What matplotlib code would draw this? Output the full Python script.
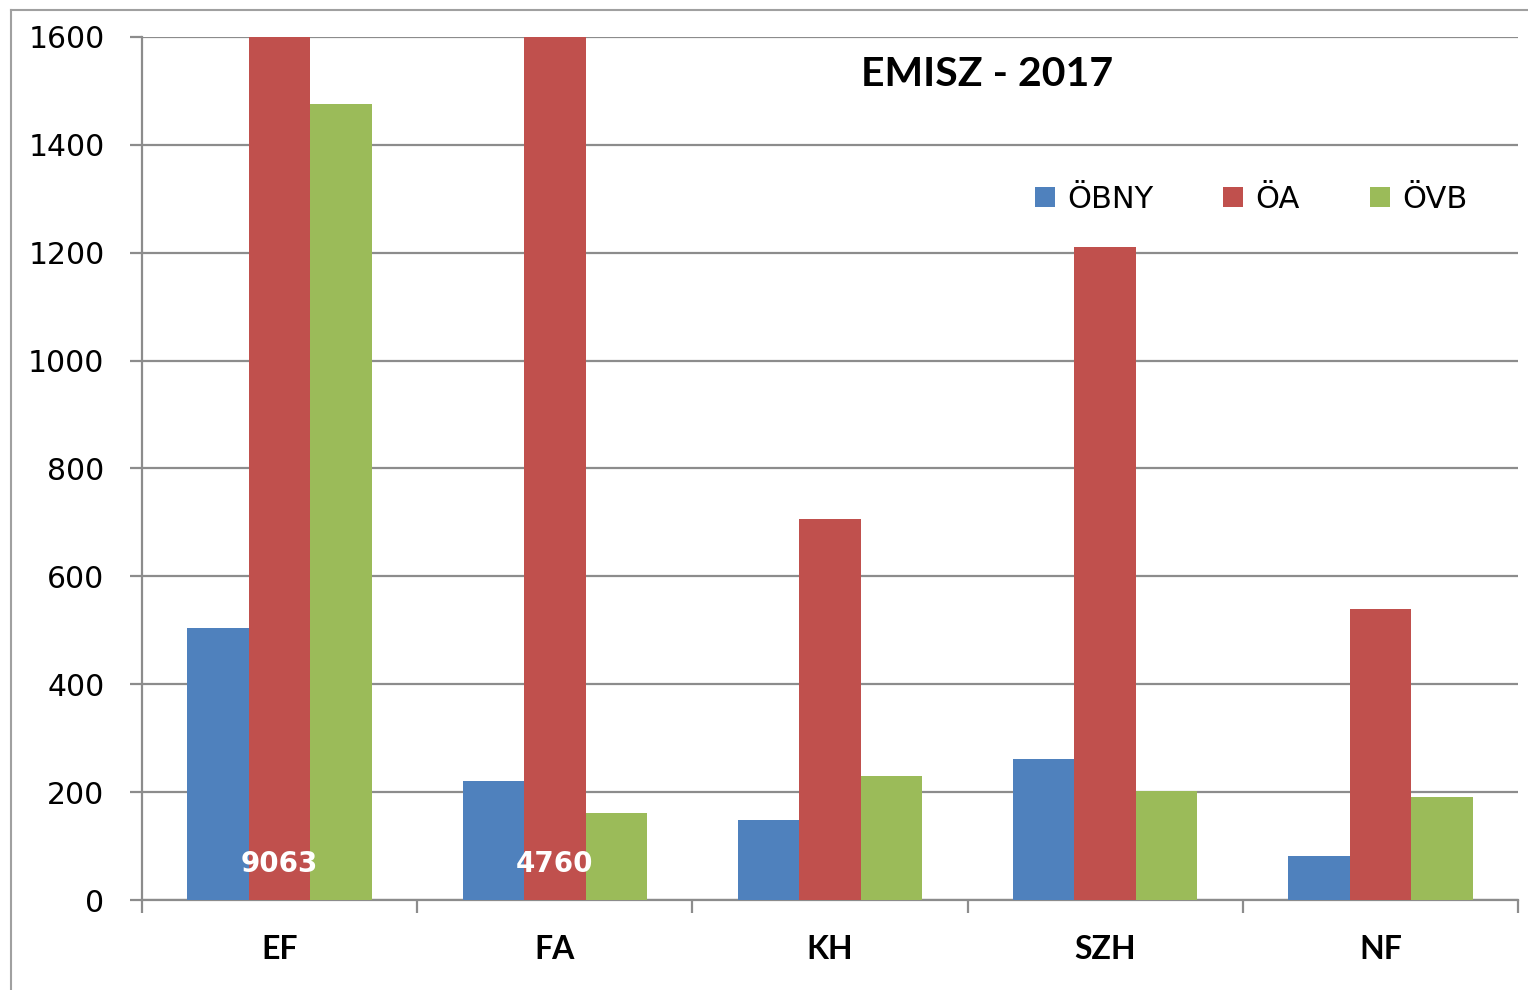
import matplotlib
matplotlib.use("Agg")
import matplotlib.pyplot as plt
import numpy as np
from matplotlib.lines import Line2D

categories = ["EF", "FA", "KH", "SZH", "NF"]
series_names = ["ÖBNY", "ÖA", "ÖVB"]
obny = [504, 221, 148, 261, 82]
oa = [9063, 4760, 706, 1211, 539]
ovb = [1476, 161, 230, 202, 191]
colors = ["#4F81BD", "#C0504D", "#9BBB59"]
yticks = [0, 200, 400, 600, 800, 1000, 1200, 1400, 1600]
title = "EMISZ - 2017"

fig = plt.figure(figsize=(15.28, 9.9), dpi=100)
ax = fig.add_axes([142/1528, 90/990, (1518-142)/1528, (900-37)/990])

x = np.arange(len(categories)) + 0.5
w = 0.2235
grid_c = "#8C8C8C"
for i, (vals, name) in enumerate(zip([obny, oa, ovb], series_names)):
    ax.bar(x + (i - 1) * w, vals, width=w, color=colors[i], label=name, zorder=3)

ax.set_xlim(0, len(categories))
ax.set_ylim(0, 1600)
ax.set_yticks(yticks)
ax.set_yticklabels([str(v) for v in yticks], fontsize=21.5, family="DejaVu Sans")
ax.yaxis.grid(True, color=grid_c, linewidth=1.6, zorder=0)
ax.set_axisbelow(True)

ax.set_xticks(np.arange(len(categories) + 1))
ax.set_xticklabels([])
ax.set_xticks(x, minor=True)
ax.set_xticklabels(categories, minor=True, fontsize=23, fontweight="bold", family="Lato")
ax.tick_params(axis="x", which="minor", length=0, pad=25)
ax.tick_params(axis="x", which="major", length=9, width=1.6, color=grid_c)
ax.tick_params(axis="y", length=9, width=1.6, color=grid_c, pad=18)

for s in ["top", "right"]:
    ax.spines[s].set_visible(False)
for s in ["left", "bottom"]:
    ax.spines[s].set_color(grid_c)
    ax.spines[s].set_linewidth(1.6)

# overflow labels for clipped bars
for xi, v in zip(x, oa):
    if v > 1600:
        ax.text(xi, 67, str(v), color="white", fontsize=20, fontweight="bold",
                ha="center", va="center", family="DejaVu Sans", zorder=5)

ax.text(0.614, 0.957, title, transform=ax.transAxes, fontsize=29.5, fontweight="bold",
        family="Lato", ha="center", va="center")

leg = ax.legend(loc="center", bbox_to_anchor=(0.806, 0.812), ncol=3, frameon=False,
                prop={"family": "DejaVu Sans", "size": 22}, handlelength=0.65, handleheight=0.65,
                handletextpad=0.4, columnspacing=2.3)

# outer frame lines (screenshot border)
fig.add_artist(Line2D([11/1528, 1], [1 - 10/990, 1 - 10/990], color="#A0A0A0", lw=1.5))
fig.add_artist(Line2D([11/1528, 11/1528], [0, 1 - 10/990], color="#A0A0A0", lw=1.5))

fig.savefig("out.png", dpi=100)
